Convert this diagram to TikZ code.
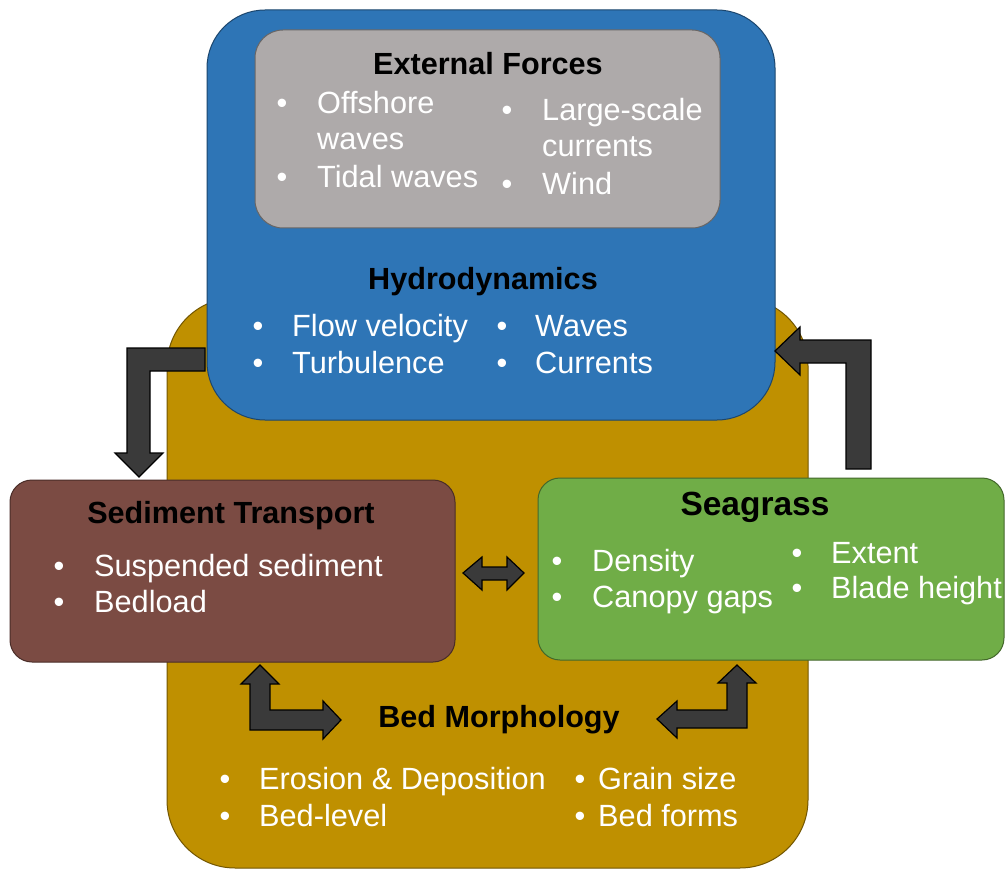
\documentclass[tikz,border=0pt]{standalone}
\usepackage{fontspec}
\setmainfont{Liberation Sans}
\definecolor{cgold}{HTML}{BF9000}
\definecolor{cblue}{HTML}{2E75B6}
\definecolor{cgray}{HTML}{AEAAAA}
\definecolor{cbrown}{HTML}{7B4B43}
\definecolor{cgreen}{HTML}{70AD47}
\definecolor{carrow}{HTML}{3A3A3A}
\begin{document}
\begin{tikzpicture}[x=1pt,y=-1pt,
  panel/.style={draw=#1!60!black, fill=#1, line width=1pt, inner sep=0pt, outer sep=0pt, anchor=north west},
  hd/.style={font=\fontsize{30.6}{36}\selectfont\bfseries, text=black, inner sep=0pt, anchor=base},
  bt/.style={font=\fontsize{30.7}{36}\selectfont, text=white, inner sep=0pt, anchor=base west},
  dot/.style={font=\fontsize{30.7}{36}\selectfont, text=white, inner sep=0pt, anchor=base},
  blockarrow/.style={fill=carrow, draw=black, line width=1.2pt, line join=miter}
]
\useasboundingbox (0,0) rectangle (1005,872);
\fill[white] (0,0) rectangle (1005,872);

% panels
\node[panel=cgold, rounded corners=68pt, minimum width=641pt, minimum height=570pt] (morph) at (167,298) {};
\node[panel=cblue, rounded corners=58pt, minimum width=568pt, minimum height=410pt] (hydro) at (207,10) {};
\node[panel=cgray, rounded corners=28pt, minimum width=465pt, minimum height=198pt] (ext) at (255,30) {};
\node[panel=cbrown, rounded corners=22pt, minimum width=445pt, minimum height=182pt] (sed) at (10,480) {};
\node[panel=cgreen, rounded corners=22pt, minimum width=466pt, minimum height=182pt] (sea) at (538,478) {};

% External forces
\node[hd] (tExt) at (488,75) {External Forces};
\node[dot] (e1) at (282,114) {•};
\node[bt] (e1t) at (317,114) {Offshore};
\node[bt] (e1u) at (317,150) {waves};
\node[dot] (e2) at (282,188) {•};
\node[bt] (e2t) at (317,188) {Tidal waves};
\node[dot] (e3) at (507,121) {•};
\node[bt] (e3t) at (542,121) {Large-scale};
\node[bt] (e3u) at (542,157) {currents};
\node[dot] (e4) at (507,195) {•};
\node[bt] (e4t) at (542,195) {Wind};

% Hydrodynamics
\node[hd] (tHyd) at (483,289) {Hydrodynamics};
\node[dot] (h1) at (258,336) {•};
\node[bt] (h1t) at (292,336) {Flow velocity};
\node[dot] (h2) at (258,373) {•};
\node[bt] (h2t) at (292,373) {Turbulence};
\node[dot] (h3) at (502,336) {•};
\node[bt] (h3t) at (535,336) {Waves};
\node[dot] (h4) at (502,373) {•};
\node[bt] (h4t) at (535,373) {Currents};

% Sediment transport
\node[hd] (tSed) at (231,523) {Sediment Transport};
\node[dot] (s1) at (59,576) {•};
\node[bt] (s1t) at (94,576) {Suspended sediment};
\node[dot] (s2) at (59,612) {•};
\node[bt] (s2t) at (94,612) {Bedload};

% Seagrass
\node[hd, font=\fontsize{33.5}{40}\selectfont\bfseries] (tSea) at (755,515) {Seagrass};
\node[dot] (g1) at (557,571) {•};
\node[bt] (g1t) at (592,571) {Density};
\node[dot] (g2) at (557,607) {•};
\node[bt] (g2t) at (592,607) {Canopy gaps};
\node[dot] (g3) at (797,563) {•};
\node[bt] (g3t) at (831,563) {Extent};
\node[dot] (g4) at (797,598) {•};
\node[bt] (g4t) at (831,598) {Blade height};

% Bed morphology
\node[hd] (tBed) at (499,727) {Bed Morphology};
\node[dot] (m1) at (225,789) {•};
\node[bt] (m1t) at (259,789) {Erosion \& Deposition};
\node[dot] (m2) at (225,826) {•};
\node[bt] (m2t) at (259,826) {Bed-level};
\node[dot] (m3) at (580,789) {•};
\node[bt] (m3t) at (598,789) {Grain size};
\node[dot] (m4) at (580,826) {•};
\node[bt] (m4t) at (598,826) {Bed forms};

% block arrows
\draw[blockarrow] (205,348) -- (127,348) -- (127,453) -- (115,453) -- (139,477) -- (163,453) -- (150,453) -- (150,371) -- (205,371) -- cycle;
\draw[blockarrow] (871,469) -- (871,340) -- (800,340) -- (800,327) -- (775,351) -- (800,375) -- (800,363) -- (846,363) -- (846,469) -- cycle;
\draw[blockarrow] (260,665) -- (279,684) -- (270,684) -- (270,710) -- (323,710) -- (323,701) -- (341,720) -- (323,739) -- (323,730) -- (250,730) -- (250,684) -- (241,684) -- cycle;
\draw[blockarrow] (737,665) -- (756,683) -- (747,683) -- (747,728) -- (677,728) -- (677,738) -- (657,719) -- (677,701) -- (677,710) -- (727,710) -- (727,683) -- (718,683) -- cycle;
\draw[blockarrow] (463,573) -- (482,557) -- (482,567) -- (507,567) -- (507,557) -- (524,573) -- (507,590) -- (507,580) -- (482,580) -- (482,590) -- cycle;
\end{tikzpicture}
\end{document}
